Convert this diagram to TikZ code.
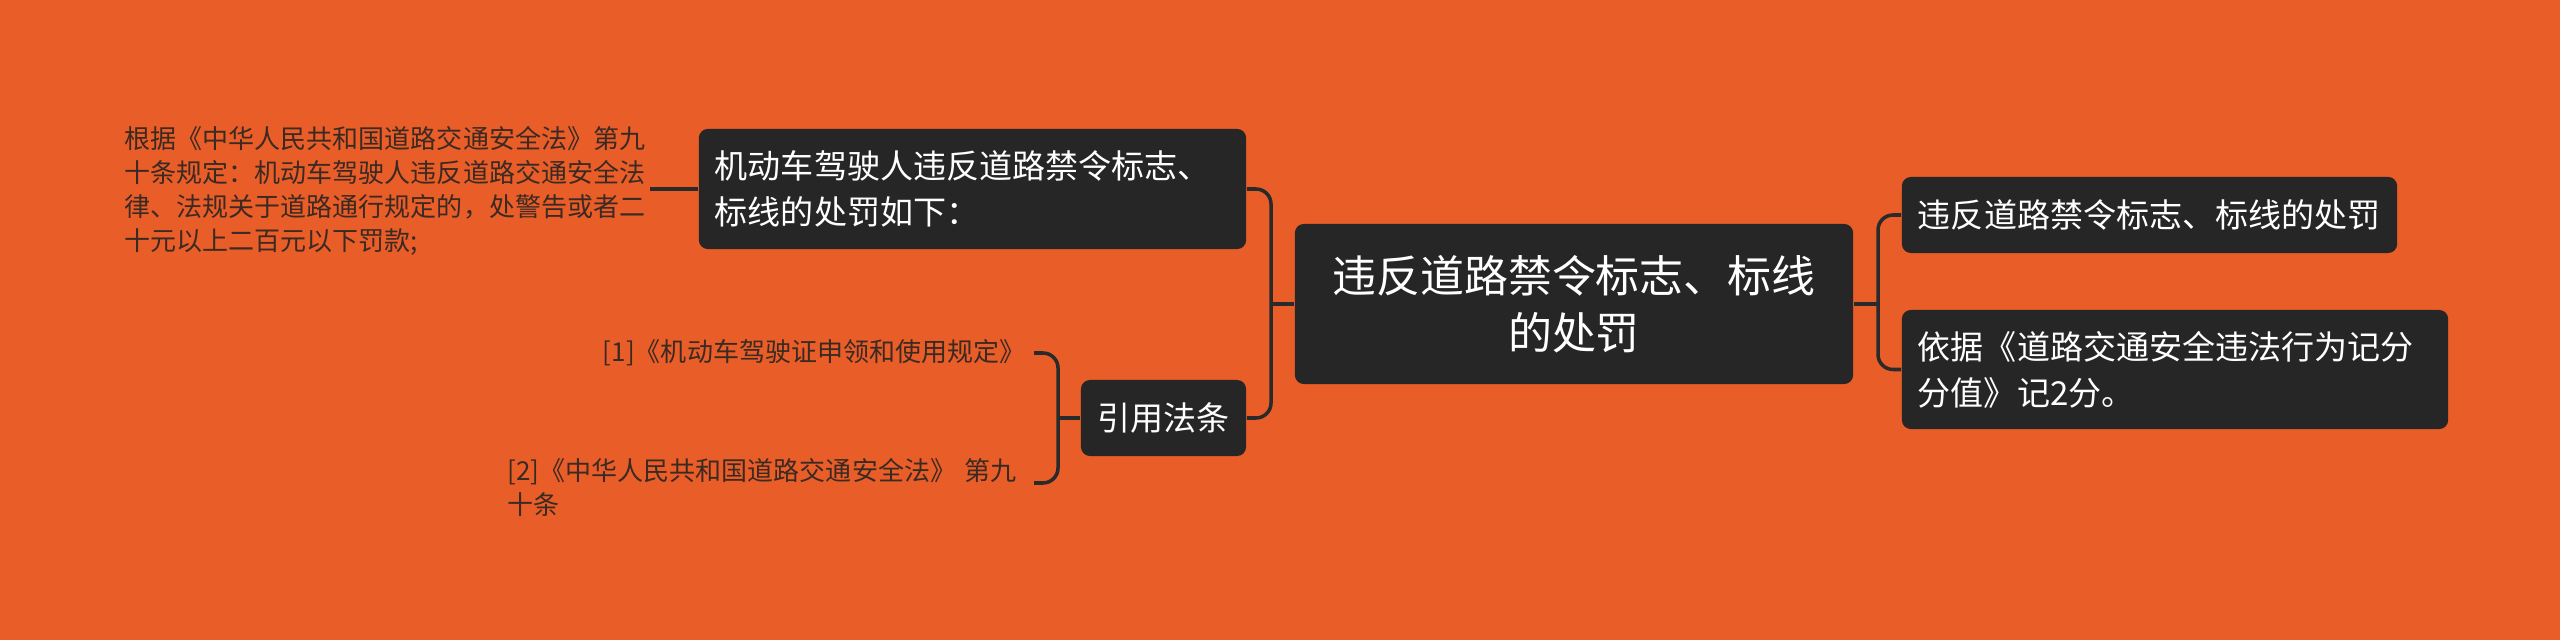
\documentclass[tikz,border=0pt]{standalone}
\usepackage{fontspec}
\setmainfont{Noto Sans CJK SC}
\definecolor{bgc}{HTML}{E95D29}
\definecolor{boxc}{HTML}{262626}
\definecolor{linec}{HTML}{2A2A2A}
\definecolor{leafc}{HTML}{3A2A22}
\tikzset{
  box/.style={fill=boxc, rounded corners=0.09cm, inner sep=0pt, text=white, align=left},
  rootbox/.style={box, align=center, font=\fontsize{12.5pt}{16.2pt}\selectfont},
  subbox/.style={box, font=\fontsize{9.4pt}{13.1pt}\selectfont},
  leaf/.style={inner sep=0pt, text=leafc, font=\fontsize{7.4pt}{9.7pt}\selectfont},
  conn/.style={draw=linec, line width=1pt, rounded corners=0.15cm}
}
\begin{document}
\begin{tikzpicture}[x=0.01cm,y=-0.01cm]
\fill[bgc] (0,0) rectangle (2560,640);
\useasboundingbox (0,0) rectangle (2560,640);

% nodes
\node[rootbox, minimum width=5.58cm, minimum height=1.60cm, text width=5.2cm] (root) at (1574,304) {违反道路禁令标志、标线\\的处罚};
\node[subbox, minimum width=4.95cm, minimum height=0.76cm, text width=4.63cm] (r1) at (2149.5,215) {违反道路禁令标志、标线的处罚};
\node[subbox, minimum width=5.46cm, minimum height=1.19cm, text width=5.14cm] (r2) at (2175,369.5) {依据《道路交通安全违法行为记分\\分值》记2分。};
\node[subbox, minimum width=5.47cm, minimum height=1.20cm, text width=5.15cm] (l1) at (972.5,189) {机动车驾驶人违反道路禁令标志、\\标线的处罚如下：};
\node[subbox, align=center, minimum width=1.65cm, minimum height=0.76cm] (l2) at (1163.5,418) {引用法条};

\node[leaf, anchor=west, text width=5.26cm, align=left] (leaf0) at (124,191) {根据《中华人民共和国道路交通安全法》第九\\十条规定：机动车驾驶人违反道路交通安全法\\律、法规关于道路通行规定的，处警告或者二\\十元以上二百元以下罚款;};
\node[leaf, anchor=east] (leaf1) at (1026,353) {[1]《机动车驾驶证申领和使用规定》};
\node[leaf, anchor=west, text width=5.6cm, align=left] (leaf2) at (507,487.5) {[2]《中华人民共和国道路交通安全法》\ 第九\\十条};

% junctions
\coordinate (jr) at (1878,304);
\coordinate (jl) at (1271,304);
\coordinate (jb) at (1058,418);
\coordinate (e1) at (1034,353);
\coordinate (e2) at (1034,483);
\coordinate (e0) at (650,189);

% connectors
\draw[conn] (r1.west) -| (jr) |- (r2.west);
\draw[conn] (root.east) -- (jr);
\draw[conn] (l1.east) -| (jl) |- (l2.east);
\draw[conn] (root.west) -- (jl);
\draw[conn] (e1) -| (jb) |- (e2);
\draw[conn] (l2.west) -- (jb);
\draw[conn] (e0) -- (l1.west);
\end{tikzpicture}
\end{document}
